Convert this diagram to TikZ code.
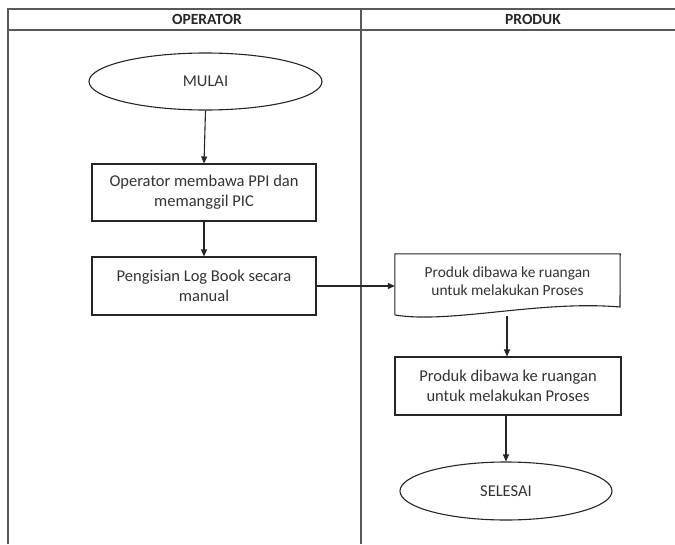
\documentclass[tikz,border=0pt]{standalone}
\usepackage{fontspec}
\setmainfont{Carlito}
\usetikzlibrary{arrows.meta,shapes.geometric}
\begin{document}
\begin{tikzpicture}[x=1pt,y=-1pt,
  frame/.style={draw=black!65,line width=1.6pt},
  shp/.style={draw=black!85,line width=1.1pt},
  txt/.style={font=\fontsize{16.5}{20}\selectfont,text=black!80,align=center},
  hdr/.style={font=\bfseries\fontsize{15.5}{18}\selectfont,text=black!85},
  arr/.style={draw=black!85,line width=1.1pt,-{Triangle[length=7pt,width=6pt]}}]
\useasboundingbox (0,0) rectangle (675,544);
% frame
\draw[frame] (8,544) -- (8,9) -- (675,9);
\draw[frame] (8,30) -- (675,30);
\draw[frame] (361,9) -- (361,544);
\node[hdr] (h1) at (207,19.5) {OPERATOR};
\node[hdr] (h2) at (533,19.5) {PRODUK};
% nodes
\node[shp,ellipse,minimum width=233pt,minimum height=57pt,inner sep=0pt,txt] (mulai) at (205.5,81.5) {MULAI};
\node[shp,rectangle,minimum width=224pt,minimum height=57pt,inner sep=0pt,txt] (b1) at (204,192.5) {Operator membawa PPI dan\\memanggil PIC};
\node[shp,rectangle,minimum width=224pt,minimum height=58pt,inner sep=0pt,txt] (b2) at (204,286) {Pengisian Log Book secara\\manual};
% document shape
\node[txt,font=\fontsize{15.4}{18}\selectfont,minimum width=225pt,minimum height=54pt,inner sep=0pt] (doc) at (507.5,281) {Produk dibawa ke ruangan\\untuk melakukan Proses};
\draw[shp] (doc.south west) ++(0,7) -- (doc.north west) -- (doc.north east) -- (620,307)
  .. controls (540,300) and (450,324) .. (395,315);
\coordinate (docb) at (507,316);
\node[shp,rectangle,minimum width=226pt,minimum height=58pt,inner sep=0pt,txt] (b3) at (508,386) {Produk dibawa ke ruangan\\untuk melakukan Proses};
\node[shp,ellipse,minimum width=212pt,minimum height=58pt,inner sep=0pt,txt] (selesai) at (506,491) {SELESAI};
% connectors
\draw[arr] (mulai.south) -- (b1.north);
\draw[arr] (b1.south) -- (b2.north);
\draw[arr] (b2.east) -- (doc.west |- b2.east);
\draw[arr] (docb) -- (docb |- b3.north);
\draw[arr] (b3.south -| selesai.north) -- (selesai.north);
\end{tikzpicture}
\end{document}
